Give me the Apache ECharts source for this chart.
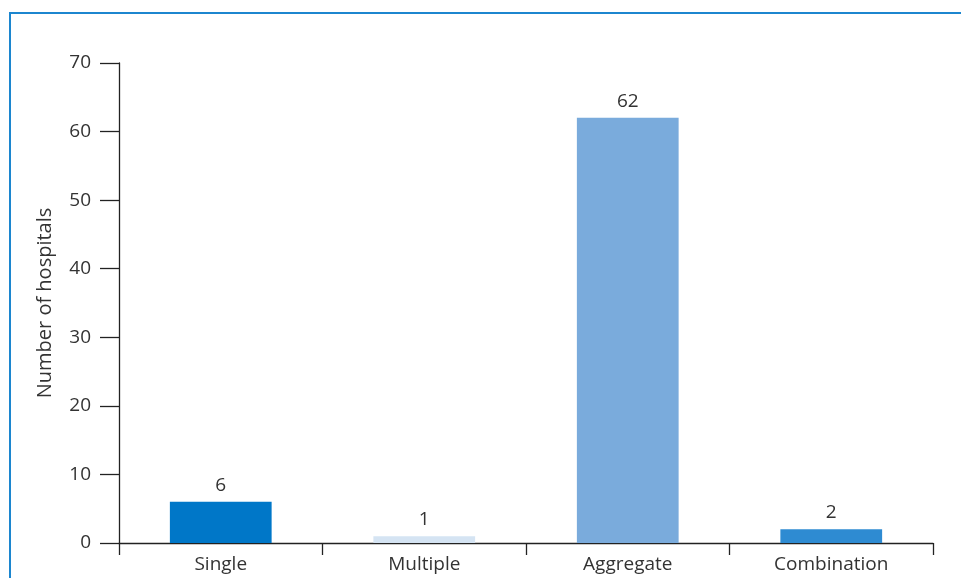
<!DOCTYPE html>
<html>
<head>
<meta charset="utf-8">
<script src="https://cdn.jsdelivr.net/npm/echarts@6/dist/echarts.min.js"></script>
<style>
  html, body { margin: 0; padding: 0; background: #fff; }
  #chart { width: 961px; height: 578px; }
</style>
</head>
<body>
<div id="chart"></div>
<script>
// Hospitals by method type
const categories = ['Single', 'Multiple', 'Aggregate', 'Combination'];
const hospitalCounts = [6, 1, 62, 2];
const barColors = ['#0077c8', '#d5e4f3', '#7aabdc', '#2e8bd2'];
const yTicks = { min: 0, max: 70, interval: 10 };

const chart = echarts.init(document.getElementById('chart'), null, { renderer: 'canvas' });
const font = '"Open Sans", "Noto Sans", sans-serif';

chart.setOption({
  animation: false,
  backgroundColor: '#fff',
  graphic: [
    {
      type: 'polyline',
      shape: { points: [[10, 578], [10, 13], [961, 13]] },
      style: { stroke: '#1c86cf', lineWidth: 2, fill: null }
    }
  ],
  grid: { left: 119, right: 28, top: 63, bottom: 35 },
  xAxis: {
    type: 'category',
    data: categories,
    axisLine: { lineStyle: { color: '#222', width: 1.3 } },
    axisTick: { show: true, length: 12, lineStyle: { color: '#222', width: 1.3 } },
    axisLabel: { color: '#333', fontFamily: font, fontSize: 19, margin: 12 }
  },
  yAxis: {
    type: 'value',
    min: yTicks.min,
    max: yTicks.max,
    interval: yTicks.interval,
    name: 'Number of hospitals',
    nameLocation: 'middle',
    nameGap: 64,
    nameTextStyle: { color: '#333', fontFamily: font, fontSize: 20 },
    splitLine: { show: false },
    axisLine: { show: true, lineStyle: { color: '#222', width: 1.3 } },
    axisTick: { show: true, length: 19, lineStyle: { color: '#222', width: 1.3 } },
    axisLabel: { color: '#333', fontFamily: font, fontSize: 19, margin: 28 }
  },
  series: [
    {
      type: 'bar',
      barWidth: '50%',
      data: hospitalCounts.map((v, i) => ({ value: v, itemStyle: { color: barColors[i] } })),
      label: {
        show: true,
        position: 'top',
        distance: 7,
        color: '#333',
        fontFamily: font,
        fontSize: 19
      }
    }
  ]
});
</script>
</body>
</html>
